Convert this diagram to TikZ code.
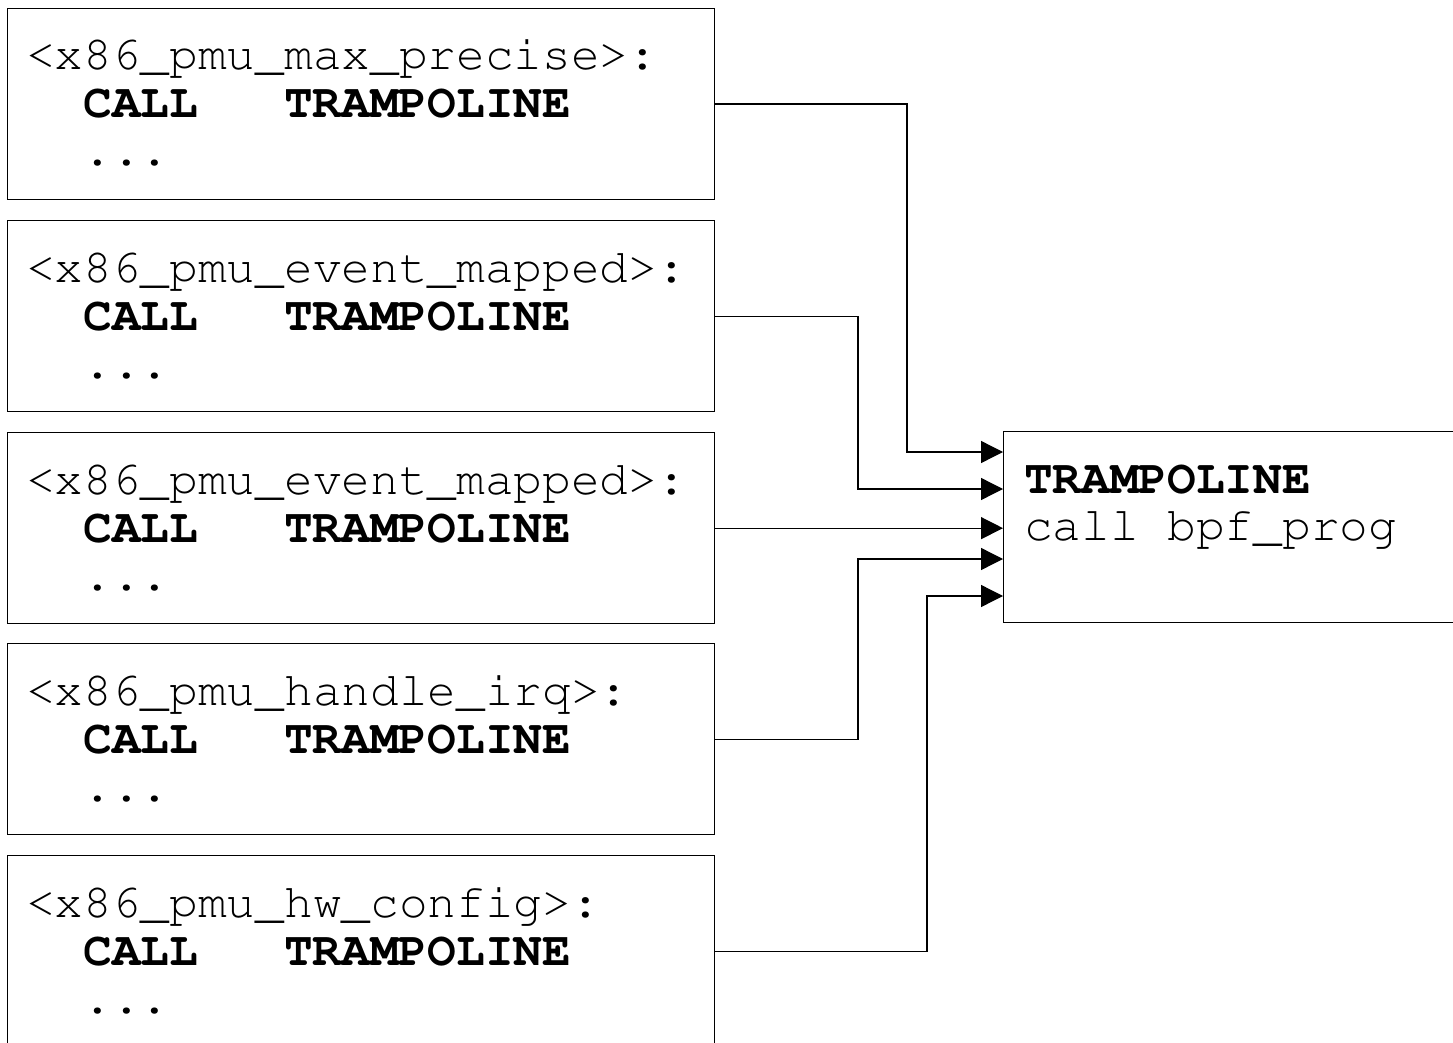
\documentclass[tikz,border=0pt]{standalone}
\usepackage[T1]{fontenc}
\usepackage{courier}
\usetikzlibrary{arrows.meta}
\begin{document}
\begin{tikzpicture}[x=1pt,y=-1pt,
  box/.style={draw=black,line width=1.3pt,minimum width=707pt,minimum height=191pt,inner sep=0pt,anchor=north west},
  code/.style={anchor=base west,inner sep=0pt,font=\ttfamily\fontsize{47.8}{48}\selectfont},
  conn/.style={draw=black,line width=1.3pt,-{Triangle[length=22pt,width=22pt]}}]
\useasboundingbox (0,0) rectangle (1453,1043);
\clip (0,0) rectangle (1453,1043);
% left boxes
\node[box] (b1) at (7,8) {};
\node[box] (b2) at (7,220) {};
\node[box] (b3) at (7,432) {};
\node[box] (b4) at (7,643) {};
\node[box] (b5) at (7,855) {};
% texts
\node[code] (b1a) at (26,70) {<x86\_pmu\_max\_precise>:};
\node[code] (b1b) at (26,118) {\phantom{xx}\textbf{CALL\phantom{xxx}TRAMPOLINE}};
\node[code] (b1c) at (26,166) {\phantom{xx}...};
\node[code] (b2a) at (26,282) {<x86\_pmu\_event\_mapped>:};
\node[code] (b2b) at (26,330) {\phantom{xx}\textbf{CALL\phantom{xxx}TRAMPOLINE}};
\node[code] (b2c) at (26,378) {\phantom{xx}...};
\node[code] (b3a) at (26,494) {<x86\_pmu\_event\_mapped>:};
\node[code] (b3b) at (26,542) {\phantom{xx}\textbf{CALL\phantom{xxx}TRAMPOLINE}};
\node[code] (b3c) at (26,590) {\phantom{xx}...};
\node[code] (b4a) at (26,705) {<x86\_pmu\_handle\_irq>:};
\node[code] (b4b) at (26,753) {\phantom{xx}\textbf{CALL\phantom{xxx}TRAMPOLINE}};
\node[code] (b4c) at (26,801) {\phantom{xx}...};
\node[code] (b5a) at (26,917) {<x86\_pmu\_hw\_config>:};
\node[code] (b5b) at (26,965) {\phantom{xx}\textbf{CALL\phantom{xxx}TRAMPOLINE}};
\node[code] (b5c) at (26,1013) {\phantom{xx}...};
% trampoline box
\node[box,minimum width=480pt] (T) at (1003,431) {};
\node[code] (Ta) at (1024,493) {\textbf{TRAMPOLINE}};
\node[code] (Tb) at (1024,540) {call bpf\_prog};
% connector ends
\coordinate (t1) at (1003,452);
\coordinate (t2) at (1003,489);
\coordinate (t4) at (1003,559);
\coordinate (t5) at (1003,596);
% connectors
\draw[conn] (b1.east) -| (907,452) -- (t1);
\draw[conn] (b2.east) -| (858,489) -- (t2);
\draw[conn] (b3.east) -- (b3.east -| T.west);
\draw[conn] (b4.east) -| (858,559) -- (t4);
\draw[conn] (b5.east) -| (927,596) -- (t5);
\end{tikzpicture}
\end{document}
